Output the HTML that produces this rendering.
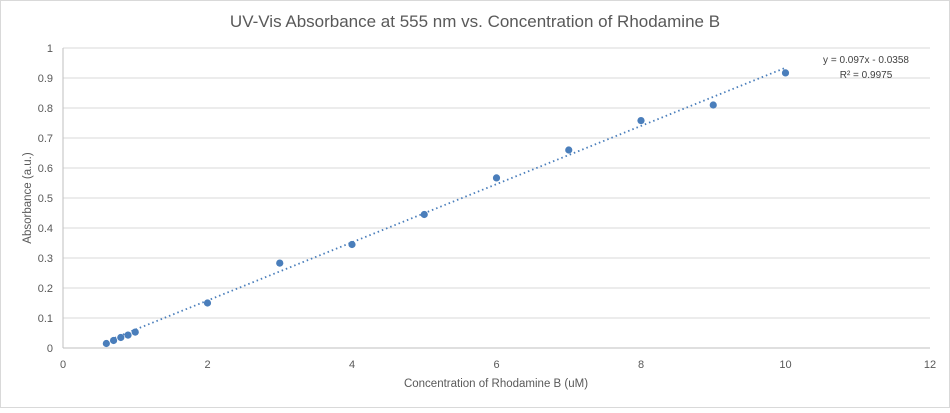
<!DOCTYPE html>
<html><head><meta charset="utf-8"><style>
body{margin:0;background:#fff;font-family:"Liberation Sans",sans-serif}
</style></head><body>
<svg width="950" height="408" xmlns="http://www.w3.org/2000/svg">
<rect x="0.5" y="0.5" width="949" height="407" fill="#fff" stroke="#d9d9d9"/>
<text x="475" y="27" text-anchor="middle" font-size="17" fill="#595959">UV-Vis Absorbance at 555 nm vs. Concentration of Rhodamine B</text>
<g id="grid"></g><g id="ticks"></g><g id="marks"></g>
<text x="866" y="63" text-anchor="middle" font-size="10" fill="#404040">y = 0.097x - 0.0358</text>
<text x="866" y="78" text-anchor="middle" font-size="10" fill="#404040">R² = 0.9975</text>
<text x="496" y="387" text-anchor="middle" font-size="11.5" fill="#595959">Concentration of Rhodamine B (uM)</text>
<text transform="translate(31,198) rotate(-90)" text-anchor="middle" font-size="11.5" fill="#595959">Absorbance (a.u.)</text>
</svg>
<script>
const xs=[0.6,0.7,0.8,0.9,1,2,3,4,5,6,7,8,9,10];
const ys=[0.015,0.025,0.035,0.043,0.053,0.15,0.283,0.345,0.445,0.567,0.66,0.758,0.81,0.917];
const slope=0.097, intercept=-0.0358;
const xTicks=[0,2,4,6,8,10,12];
const yTicks=[0,0.1,0.2,0.3,0.4,0.5,0.6,0.7,0.8,0.9,1];
const NS="http://www.w3.org/2000/svg";
const X=v=>63+v*(930-63)/12, Y=v=>348-v*300;
function mk(t,a,p){const e=document.createElementNS(NS,t);for(const k in a)e.setAttribute(k,a[k]);p.appendChild(e);return e;}
const g=document.getElementById('grid'),tk=document.getElementById('ticks'),m=document.getElementById('marks');
yTicks.forEach(v=>{
 const l=mk('line',{x1:63,x2:930,y1:Y(v),y2:Y(v),stroke:v===0?'#bfbfbf':'#d9d9d9'},g);
 
 
 const t=mk('text',{x:53,y:Y(v)+4,'text-anchor':'end','font-size':11,fill:'#595959'},tk);t.textContent=v;
 
 
});
const ax=mk('line',{x1:63,x2:63,y1:48,y2:348,stroke:'#bfbfbf'},g);


xTicks.forEach(v=>{
 const t=mk('text',{x:X(v),y:368,'text-anchor':'middle','font-size':11,fill:'#595959'},tk);t.textContent=v;
 
 
});
const x0=Math.min(...xs),x1=Math.max(...xs);
const tl=mk('line',{x1:X(x0),y1:Y(slope*x0+intercept),x2:X(x1),y2:Y(slope*x1+intercept),stroke:'#4a7ebb','stroke-width':1.8,'stroke-dasharray':'1.5 3'},m);


xs.forEach((x,i)=>{
 const c=mk('circle',{cx:X(x),cy:Y(ys[i]),r:3.6,fill:'#4a7ebb'},m);
 
 
});
</script>
</body></html>
